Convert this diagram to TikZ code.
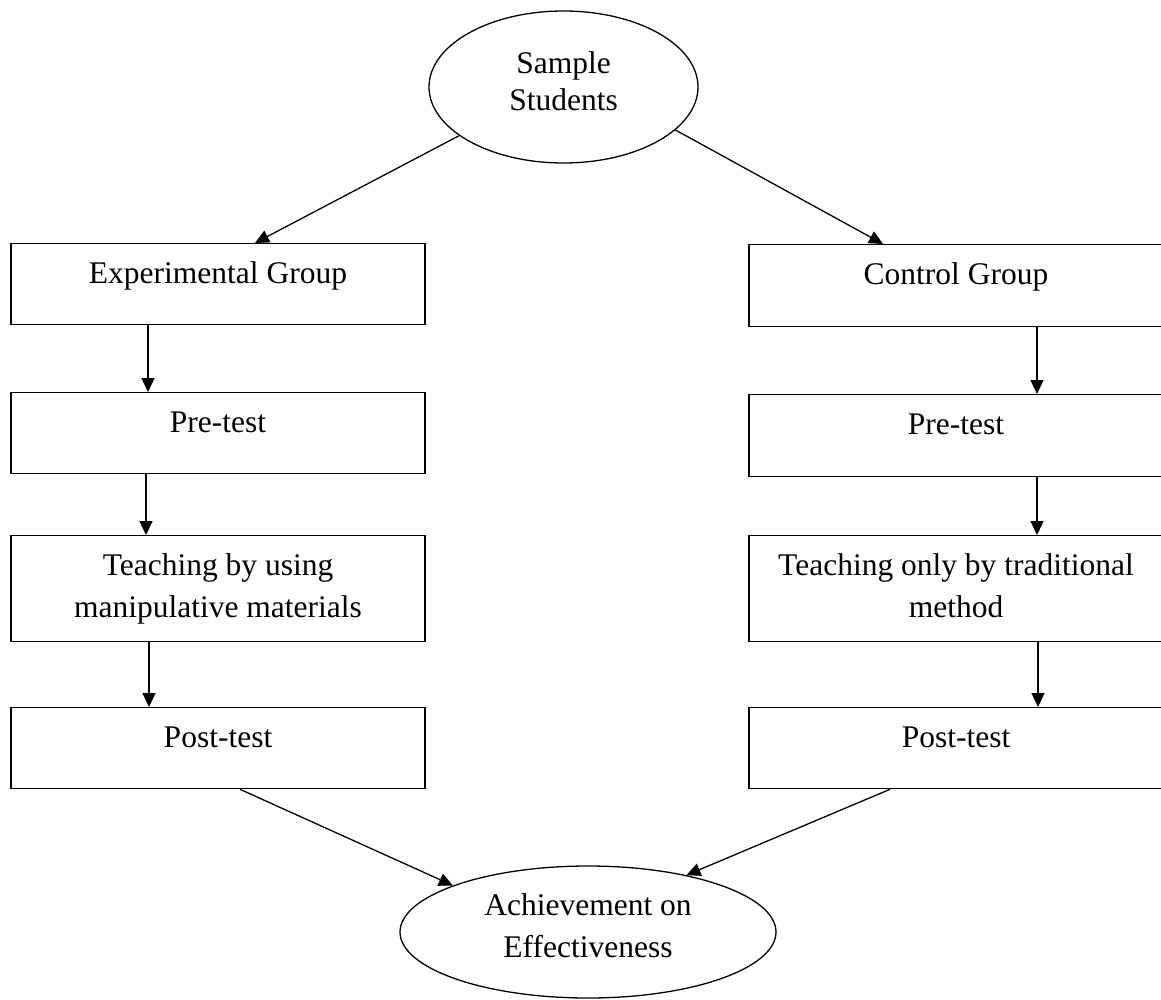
\documentclass[tikz,border=0pt]{standalone}
\usepackage{fontspec}
\setmainfont{Liberation Serif}
\usetikzlibrary{shapes.geometric,arrows.meta,calc}
\newcommand{\twoln}[2]{\vtop{\halign{\hfil##\hfil\cr #1\cr #2\cr}}}
\begin{document}
\begin{tikzpicture}[x=1pt,y=-1pt,
  box/.style={draw,line width=1.3pt,rectangle,inner sep=0pt,minimum width=414pt,minimum height=81pt,anchor=north,text height=40pt,text depth=41pt,font=\fontsize{31.5}{42}\selectfont},
  tallbox/.style={box,minimum height=106pt,text depth=66pt},
  oval/.style={draw,line width=1.3pt,ellipse,inner sep=0pt,text height=20pt},
  conn/.style={line width=1.3pt,-{Triangle[length=14pt,width=13pt]}}]
\useasboundingbox (0,0) rectangle (1161,999);
\clip (0,0) rectangle (1161,999);
% left column
\node[box] (e1) at (218,243) {Experimental Group};
\node[box] (e2) at (218,392) {Pre-test};
\node[tallbox] (e3) at (218,535) {\twoln{Teaching by using}{manipulative materials}};
\node[box] (e4) at (218,707) {Post-test};
% right column
\node[box,minimum height=82pt,text depth=42pt] (c1) at (956,244) {Control Group};
\node[box,minimum height=82pt,text depth=42pt] (c2) at (956,394) {Pre-test};
\node[tallbox] (c3) at (956,535) {\twoln{Teaching only by traditional}{method}};
\node[box] (c4) at (956,707) {Post-test};
% ellipses
\node[oval,minimum width=269pt,minimum height=152pt,text depth=48pt,font=\fontsize{31.5}{37}\selectfont] (s) at (563.5,87) {\twoln{Sample}{Students}};
\node[oval,minimum width=376pt,minimum height=132pt,text depth=54pt,font=\fontsize{31.5}{42}\selectfont] (a) at (588,932) {\twoln{Achievement on}{Effectiveness}};
% connectors
\draw[conn] (s.205.3) -- ([xshift=37pt]e1.north);
\draw[conn] (s.339) -- ([xshift=-73pt]c1.north);
\draw[conn] ([xshift=-70pt]e1.south) -- ([xshift=-70pt]e2.north);
\draw[conn] ([xshift=-72pt]e2.south) -- ([xshift=-72pt]e3.north);
\draw[conn] ([xshift=-69pt]e3.south) -- ([xshift=-69pt]e4.north);
\draw[conn] ([xshift=81pt]c1.south) -- ([xshift=81pt]c2.north);
\draw[conn] ([xshift=81pt]c2.south) -- ([xshift=81pt]c3.north);
\draw[conn] ([xshift=82pt]c3.south) -- ([xshift=82pt]c4.north);
\draw[conn] ([xshift=22pt]e4.south) -- (a.161.9);
\draw[conn] ([xshift=-66pt]c4.south) -- (a.30.3);
\end{tikzpicture}
\end{document}
